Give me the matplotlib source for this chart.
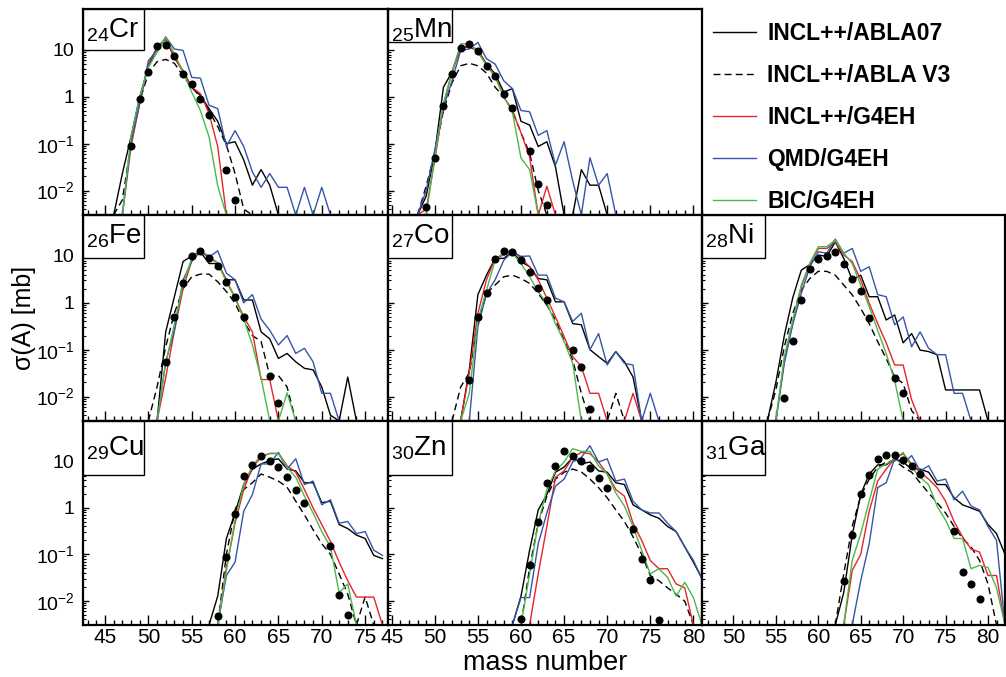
import numpy as np
import matplotlib
matplotlib.use('Agg')
import matplotlib.pyplot as plt
from matplotlib.patches import Rectangle
from matplotlib.ticker import FixedLocator, LogLocator, MultipleLocator, NullFormatter

plt.rcParams['font.family'] = ['Liberation Sans', 'DejaVu Sans']
plt.rcParams['mathtext.fontset'] = 'custom'
plt.rcParams['mathtext.rm'] = 'Liberation Sans'
plt.rcParams['mathtext.default'] = 'regular'

# cross sections in mb, one value per mass number (0 = no yield)
# --- 24Cr ---
cr_A = list(range(46, 72))
cr_abla07 = [0, 0.023, 0.14, 1.0, 4.3, 11.5, 17, 6.9, 3.6, 1.6, 1.07, 0.56, 0.3, 0.1, 0.11, 0.045, 0.013, 0.028, 0.013, 0, 0, 0, 0, 0, 0, 0]
cr_ablav3 = [0, 0.0063, 0.1, 0.8, 3.2, 5.6, 6.3, 5.2, 2.8, 1.6, 1.0, 0.5, 0.23, 0.093, 0.023, 0.004, 0, 0, 0, 0, 0, 0, 0, 0, 0, 0]
cr_inclg4 = [0, 0, 0.087, 0.72, 5.0, 11.5, 17, 6.9, 3.4, 1.6, 1.17, 0.44, 0.087, 0, 0, 0, 0, 0, 0, 0, 0, 0, 0, 0, 0, 0]
cr_qmd = [0, 0, 0.11, 0.72, 5.9, 9.8, 19, 10.5, 9.8, 2.6, 2.5, 0.66, 0.56, 0.087, 0.19, 0.087, 0.025, 0.0117, 0.023, 0.0117, 0.0117, 0, 0.0117, 0, 0.0117, 0]
cr_bic = [0, 0, 0.14, 1.0, 4.3, 8.9, 19, 8.3, 3.4, 1.26, 0.51, 0.14, 0.0126, 0, 0, 0, 0, 0, 0, 0, 0, 0, 0, 0, 0, 0]
cr_exp_A = [48, 49, 50, 51, 52, 53, 54, 55, 56, 57, 59, 60]
cr_exp = [0.091, 0.91, 3.4, 12.3, 12.6, 7.4, 3.0, 1.9, 0.91, 0.4, 0.028, 0.0063]

# --- 25Mn ---
mn_A = list(range(48, 72))
mn_abla07 = [0, 0.0076, 0.063, 1.6, 3.4, 11.7, 11.5, 9.8, 5.0, 3.1, 1.26, 1.5, 0.3, 0.25, 0.087, 0.11, 0.032, 0, 0, 0.028, 0.013, 0.013, 0, 0]
mn_ablav3 = [0, 0.0126, 0.063, 0.5, 2.0, 4.6, 5.2, 4.6, 3.2, 1.6, 1.0, 0.51, 0.17, 0.063, 0.01, 0, 0, 0, 0, 0, 0, 0, 0, 0]
mn_inclg4 = [0, 0.004, 0.045, 0.66, 3.4, 11.5, 11.7, 10.5, 4.7, 2.9, 1.0, 0.51, 0.17, 0.052, 0, 0.0123, 0, 0, 0, 0, 0, 0, 0, 0]
mn_qmd = [0, 0.01, 0.074, 0.6, 2.2, 9.8, 10.5, 14.5, 6.5, 5.0, 2.2, 1.5, 0.51, 0.48, 0.15, 0.19, 0.035, 0.11, 0.016, 0, 0.05, 0.013, 0.023, 0]
mn_bic = [0, 0, 0.052, 0.72, 3.4, 13.5, 13.5, 8.9, 4.7, 2.6, 1.0, 0.48, 0.049, 0.028, 0, 0, 0, 0, 0, 0, 0, 0, 0, 0]
mn_exp_A = [49, 50, 51, 52, 53, 54, 55, 56, 57, 58, 59, 61, 62, 63]
mn_exp = [0.0045, 0.05, 0.63, 3.0, 11, 13.4, 9.7, 4.6, 2.8, 1.17, 0.58, 0.07, 0.014, 0.005]

# --- 26Fe ---
fe_A = list(range(50, 75))
fe_abla07 = [0, 0, 0.24, 1.35, 7.6, 10, 12.3, 6.9, 6.9, 3.1, 3.1, 1.15, 1.15, 0.24, 0.17, 0.065, 0.083, 0.055, 0.04, 0.037, 0.016, 0.004, 0, 0.026, 0]
fe_ablav3 = [0, 0.016, 0.115, 0.6, 2.0, 3.6, 4.1, 4.1, 2.8, 1.74, 0.98, 0.4, 0.2, 0.15, 0.028, 0.028, 0.016, 0, 0, 0, 0, 0, 0, 0, 0]
fe_inclg4 = [0, 0, 0.025, 0.25, 2.0, 7.9, 12.6, 9.1, 7.1, 3.0, 1.3, 0.5, 0.24, 0.023, 0.023, 0, 0, 0, 0, 0, 0, 0, 0, 0, 0]
fe_qmd = [0, 0, 0.055, 0.26, 3.1, 7.6, 12.9, 9.5, 12.9, 4.3, 3.1, 1.0, 1.5, 0.45, 0.26, 0.126, 0.2, 0.083, 0.107, 0.055, 0.0117, 0.0117, 0, 0, 0]
fe_bic = [0, 0, 0.05, 0.35, 2.5, 8.9, 12.9, 10, 7.1, 2.8, 1.26, 0.45, 0.126, 0.025, 0, 0, 0.012, 0, 0, 0, 0, 0, 0, 0, 0]
fe_exp_A = [52, 53, 54, 55, 56, 57, 58, 59, 60, 61, 64, 65]
fe_exp = [0.055, 0.49, 2.7, 9.8, 12.9, 9.1, 6.2, 2.8, 1.3, 0.49, 0.028, 0.0074]

# --- 27Co ---
co_A = list(range(52, 77))
co_abla07 = [0, 0, 0.037, 1.5, 3.9, 8.9, 8.9, 12.3, 7.6, 5.9, 3.3, 3.1, 1.05, 1.05, 0.36, 0.34, 0.1, 0.071, 0.051, 0.091, 0.055, 0.026, 0, 0, 0]
co_ablav3 = [0, 0.016, 0.032, 0.36, 1.58, 2.4, 3.6, 3.9, 3.3, 2.6, 1.58, 0.89, 0.43, 0.16, 0.06, 0.0117, 0, 0, 0, 0.0117, 0, 0, 0, 0, 0]
co_inclg4 = [0, 0, 0.032, 0.6, 3.1, 8.9, 10.5, 13.5, 8.9, 5.9, 3.1, 1.26, 0.5, 0.19, 0.071, 0.044, 0.0117, 0.0117, 0, 0, 0, 0.0117, 0, 0, 0]
co_qmd = [0, 0, 0, 0.31, 1.58, 3.1, 8.1, 12.3, 9.8, 10, 3.9, 3.9, 1.26, 1.05, 0.4, 0.6, 0.1, 0.22, 0.047, 0.091, 0.051, 0.047, 0, 0.0117, 0]
co_bic = [0, 0, 0.0117, 0.43, 1.86, 8.1, 12.3, 11.5, 6.9, 3.6, 1.74, 0.98, 0.36, 0.15, 0.051, 0, 0, 0, 0, 0, 0, 0, 0, 0, 0]
co_exp_A = [54, 55, 56, 57, 58, 59, 60, 61, 62, 63, 66, 67, 68]
co_exp = [0.023, 0.49, 1.66, 8.7, 12.9, 12.3, 8.1, 4.5, 2.1, 1.15, 0.1, 0.042, 0.0054]

# --- 28Ni ---
ni_A = list(range(54, 81))
ni_abla07 = [0, 0.02, 0.2, 1.3, 5.0, 6.5, 10.5, 9.8, 20, 8.9, 3.1, 3.9, 1.35, 1.35, 0.43, 0.55, 0.14, 0.22, 0.098, 0.091, 0.078, 0.0138, 0.0138, 0.0138, 0.0138, 0.0138, 0]
ni_ablav3 = [0, 0.0138, 0.115, 0.6, 1.86, 3.3, 4.7, 4.7, 3.9, 2.4, 1.48, 0.76, 0.36, 0.148, 0.065, 0.026, 0.019, 0.005, 0, 0, 0, 0, 0, 0, 0, 0, 0]
ni_inclg4 = [0, 0, 0.06, 0.36, 2.2, 6.9, 14.5, 14.5, 20, 10.5, 7.6, 3.1, 0.98, 0.36, 0.14, 0.047, 0.047, 0.0085, 0, 0, 0, 0, 0, 0, 0, 0, 0]
ni_qmd = [0, 0, 0.051, 0.36, 1.58, 5.9, 12.3, 11.5, 23, 11.5, 14.5, 4.7, 5.9, 1.5, 1.35, 0.34, 0.5, 0.115, 0.24, 0.107, 0.078, 0.078, 0.0117, 0.0117, 0, 0, 0]
ni_bic = [0, 0, 0.071, 0.43, 2.4, 6.9, 15.8, 15.8, 22, 11.5, 6.9, 2.4, 0.83, 0.26, 0.083, 0.022, 0, 0, 0, 0, 0, 0, 0, 0, 0, 0, 0]
ni_exp_A = [56, 57, 58, 59, 60, 61, 62, 63, 64, 65, 66, 69, 70]
ni_exp = [0.0091, 0.155, 1.15, 5.2, 8.7, 10, 12.3, 6.9, 3.2, 1.8, 0.48, 0.025, 0.0117]

# --- 29Cu ---
cu_A = list(range(57, 78))
cu_abla07 = [0, 0.0126, 0.22, 0.78, 3.2, 6.9, 8.9, 10.5, 11.5, 6.9, 6.3, 3.5, 3.5, 1.3, 1.4, 0.44, 0.36, 0.26, 0.22, 0.095, 0.081]
cu_ablav3 = [0, 0, 0.1, 0.91, 2.5, 3.5, 5.4, 4.6, 3.8, 2.8, 1.4, 0.71, 0.34, 0.17, 0.1, 0.038, 0.0138, 0, 0.012, 0, 0]
cu_inclg4 = [0, 0, 0.052, 0.47, 2.5, 7.6, 12.3, 15.1, 15.1, 8.1, 5.9, 2.5, 1.0, 0.44, 0.19, 0.068, 0.027, 0.012, 0.012, 0.012, 0]
cu_qmd = [0, 0, 0.035, 0.068, 0.85, 1.95, 8.9, 8.9, 15.8, 6.9, 11.5, 3.2, 3.8, 1.17, 1.5, 0.47, 0.51, 0.28, 0.31, 0.123, 0.095]
cu_bic = [0, 0, 0.045, 0.55, 3.2, 8.1, 13.5, 14.8, 14.8, 7.6, 4.6, 1.8, 0.78, 0.31, 0.145, 0.015, 0.023, 0, 0, 0, 0]
cu_exp_A = [58, 59, 60, 61, 62, 63, 64, 65, 66, 67, 68, 71, 72, 73]
cu_exp = [0.0046, 0.087, 0.76, 4.8, 8.5, 12.9, 10.5, 7.6, 4.6, 2.5, 1.29, 0.15, 0.013, 0.005]

# --- 30Zn ---
zn_A = list(range(59, 82))
zn_abla07 = [0, 0.0126, 0.123, 0.91, 1.95, 5.9, 7.6, 12.3, 8.9, 9.8, 6.3, 5.9, 3.5, 3.2, 1.17, 0.91, 0.71, 0.6, 0.4, 0.31, 0.145, 0.068, 0.03]
zn_ablav3 = [0, 0, 0.052, 0.47, 1.8, 4.2, 5.9, 6.9, 6.0, 4.2, 2.75, 1.66, 0.91, 0.51, 0.24, 0.1, 0.035, 0.027, 0.019, 0.0138, 0.0098, 0, 0]
zn_inclg4 = [0, 0, 0, 0.038, 0.4, 4.6, 6.3, 12.3, 15.8, 14.8, 9.8, 5.4, 2.5, 1.8, 0.47, 0.2, 0.074, 0.049, 0.049, 0.023, 0.019, 0, 0]
zn_qmd = [0, 0.0117, 0.0117, 0.17, 0.78, 2.95, 4.2, 9.8, 12.3, 22, 9.8, 11.5, 3.8, 4.2, 1.4, 0.91, 0.78, 0.78, 0.47, 0.31, 0.145, 0.074, 0.03]
zn_bic = [0, 0, 0.038, 0.47, 2.5, 6.3, 9.8, 19, 16.6, 16.6, 8.1, 5.4, 2.1, 1.1, 0.4, 0.123, 0.038, 0.049, 0.032, 0.0126, 0.025, 0.0117, 0]
zn_exp_A = [60, 61, 62, 63, 64, 65, 66, 67, 68, 69, 70, 73, 74, 75, 76]
zn_exp = [0.0041, 0.059, 0.49, 3.4, 8.1, 17, 13.5, 10.2, 7.2, 4.4, 2.75, 0.35, 0.078, 0.028, 0.0039]

# --- 31Ga ---
ga_A = list(range(62, 84))
ga_abla07 = [0, 0.015, 0.26, 1.95, 5.4, 8.5, 8.5, 11.5, 9.8, 6.9, 6.9, 5.9, 3.2, 3.2, 1.66, 1.17, 1.0, 0.85, 0.44, 0.28, 0.1, 0]
ga_ablav3 = [0, 0.038, 0.4, 1.8, 4.2, 7.6, 9.8, 10.5, 7.6, 5.9, 3.5, 2.1, 1.3, 0.78, 0.4, 0.22, 0.145, 0.074, 0.023, 0, 0, 0]
ga_inclg4 = [0, 0, 0.045, 0.1, 0.85, 3.8, 6.9, 11.5, 14.8, 8.9, 5.9, 4.2, 2.75, 1.4, 0.51, 0.24, 0.13, 0.112, 0.035, 0.035, 0, 0]
ga_qmd = [0, 0, 0, 0.027, 0.17, 2.75, 3.5, 11.5, 8.9, 13.5, 6.3, 8.1, 3.8, 4.2, 1.5, 2.3, 1.1, 0.91, 0.4, 0.2, 0, 0]
ga_bic = [0, 0, 0.074, 0.28, 1.4, 6.9, 8.9, 11.5, 15.8, 7.6, 4.6, 3.2, 1.1, 0.55, 0.22, 0.22, 0.049, 0.058, 0.052, 0.019, 0, 0]
ga_exp_A = [63, 64, 65, 66, 67, 68, 69, 70, 71, 72, 76, 77, 78, 79]
ga_exp = [0.026, 0.26, 2.0, 5.2, 11.5, 14.1, 14.1, 11, 8.1, 5.4, 0.32, 0.041, 0.023, 0.011]

models = ['INCL++/ABLA07', 'INCL++/ABLA V3', 'INCL++/G4EH', 'QMD/G4EH', 'BIC/G4EH']
colors = ['black', 'black', '#e8232b', '#3556a6', '#4cb84a']
styles = ['-', (0, (5, 3)), '-', '-', '-']

ytick_vals = [0.01, 0.1, 1, 10]
ytick_labels = ['10$^{-2}$', '10$^{-1}$', '1', '10']
YMIN, YMAX = 0.003, 75

# layout in pixels (figure 1006 x 677)
W, H = 1006, 677
col_px = [(83, 388), (388, 702), (702, 1005)]
row_px = [(9, 215), (215, 421), (421, 625)]
xlims = [(42.46, 77.64), (44.57, 81.0), (46.3, 82.0)]
box_w = [61, 64, 63]

# row, col, Z, symbol, masses, model series, exp masses, exp values, label box height
panels = [
    (0, 0, '24', 'Cr', cr_A, [cr_abla07, cr_ablav3, cr_inclg4, cr_qmd, cr_bic], cr_exp_A, cr_exp, 41),
    (0, 1, '25', 'Mn', mn_A, [mn_abla07, mn_ablav3, mn_inclg4, mn_qmd, mn_bic], mn_exp_A, mn_exp, 33),
    (1, 0, '26', 'Fe', fe_A, [fe_abla07, fe_ablav3, fe_inclg4, fe_qmd, fe_bic], fe_exp_A, fe_exp, 43),
    (1, 1, '27', 'Co', co_A, [co_abla07, co_ablav3, co_inclg4, co_qmd, co_bic], co_exp_A, co_exp, 43),
    (1, 2, '28', 'Ni', ni_A, [ni_abla07, ni_ablav3, ni_inclg4, ni_qmd, ni_bic], ni_exp_A, ni_exp, 43),
    (2, 0, '29', 'Cu', cu_A, [cu_abla07, cu_ablav3, cu_inclg4, cu_qmd, cu_bic], cu_exp_A, cu_exp, 54),
    (2, 1, '30', 'Zn', zn_A, [zn_abla07, zn_ablav3, zn_inclg4, zn_qmd, zn_bic], zn_exp_A, zn_exp, 54),
    (2, 2, '31', 'Ga', ga_A, [ga_abla07, ga_ablav3, ga_inclg4, ga_qmd, ga_bic], ga_exp_A, ga_exp, 54),
]

fig = plt.figure(figsize=(10.06, 6.77), dpi=100)
handles = None

for row, col, z, sym, A, series, eA, ev, bh in panels:
    x0, x1 = col_px[col]
    y0, y1 = row_px[row]
    ax = fig.add_axes([x0 / W, 1 - y1 / H, (x1 - x0) / W, (y1 - y0) / H])

    lines = []
    for vals, c, ls in zip(series, colors, styles):
        # zero yields are drawn on the bottom of the frame, as ROOT does
        y = np.clip(np.array(vals, dtype=float), YMIN, None)
        ln, = ax.plot(A, y, color=c, linestyle=ls, linewidth=1.0)
        lines.append(ln)
    if handles is None:
        handles = lines
    ax.plot(eA, ev, 'o', color='black', markersize=4.8, zorder=4)

    ax.set_yscale('log')
    ax.set_ylim(YMIN, YMAX)
    ax.set_xlim(*xlims[col])

    ax.xaxis.set_major_locator(MultipleLocator(5))
    ax.xaxis.set_minor_locator(MultipleLocator(1))
    ax.yaxis.set_major_locator(FixedLocator(ytick_vals))
    ax.yaxis.set_minor_locator(LogLocator(base=10, subs=np.arange(2, 10)))
    ax.yaxis.set_minor_formatter(NullFormatter())
    if col == 0:
        ax.set_yticklabels(ytick_labels)
    else:
        ax.tick_params(axis='y', labelleft=False)
    if row < 2:
        ax.tick_params(axis='x', labelbottom=False)

    ax.tick_params(axis='x', which='major', direction='in', length=7, width=1, labelsize=15, pad=2.5)
    ax.tick_params(axis='x', which='minor', direction='in', length=3.5, width=1)
    ax.tick_params(axis='y', which='major', direction='in', length=4, width=1, labelsize=14, pad=6)
    ax.tick_params(axis='y', which='minor', direction='in', length=2, width=0.8)
    for sp in ax.spines.values():
        sp.set_linewidth(1.6)

    # element label box in the upper left corner
    box = Rectangle((x0 / W, 1 - (y0 + bh) / H), box_w[col] / W, bh / H,
                    transform=fig.transFigure, facecolor='white', edgecolor='black',
                    linewidth=1.0, zorder=5)
    fig.add_artist(box)
    base = 28 if row < 2 else 35
    fig.text((x0 + 3) / W, 1 - (y0 + base) / H, '$_{%s}$%s' % (z, sym),
             fontsize=20, ha='left', va='baseline', zorder=6)

fig.legend(handles, models, loc='upper left', bbox_to_anchor=(713 / W, 1 - 22 / H),
           frameon=False, borderpad=0, borderaxespad=0, handlelength=1.88,
           handletextpad=0.48, labelspacing=0.83,
           prop={'family': 'Liberation Sans', 'weight': 'bold', 'size': 16.5})

fig.text(24 / W, 1 - 318 / H, 'σ(A) [mb]', rotation=90, ha='center', va='center', fontsize=18)
fig.text(545 / W, 1 - 676.5 / H, 'mass number', ha='center', va='bottom', fontsize=19.5)

fig.savefig('out.png', dpi=100)
